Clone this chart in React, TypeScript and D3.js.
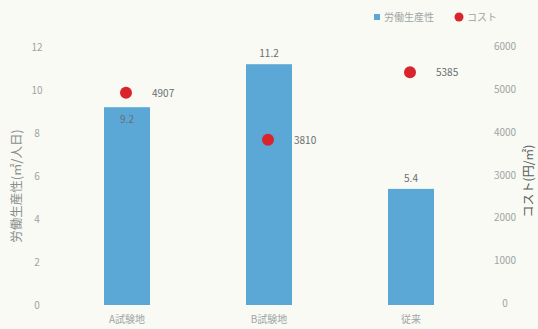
import React from "react";
import * as d3 from "d3";

const categories = ["A試験地", "B試験地", "従来"];
const productivity = [9.2, 11.2, 5.4];
const cost = [4907, 3810, 5385];
const leftTicks = [0, 2, 4, 6, 8, 10, 12];
const rightTicks = [0, 1000, 2000, 3000, 4000, 5000, 6000];
const seriesNames = ["労働生産性", "コスト"];
const axisTitles = ["労働生産性(㎡/人日)", "コスト(円/㎡)"];

const W = 538;
const H = 329;
const margin = { left: 56, right: 56, top: 47, bottom: 24 };
const FONT = "'Noto Sans CJK JP', 'Noto Sans', sans-serif";
const BAR = "#5ba8d6";
const DOT = "#d8242a";
const GRAY = "#a0a4a6";

export default function App() {
  const x = d3
    .scaleBand<string>()
    .domain(categories)
    .range([margin.left, W - margin.right])
    .paddingInner(0.676)
    .paddingOuter(0.338);
  const yL = d3.scaleLinear().domain([0, 12]).range([H - margin.bottom, margin.top]);
  const yR = d3.scaleLinear().domain([0, 6000]).range([H - margin.bottom - 2, margin.top - 1]);
  const bw = x.bandwidth();

  return (
    <svg
      width={W}
      height={H}
      style={{ position: "absolute", left: 0, top: 0, background: "#f8faf3" }}
      fontFamily={FONT}
    >
      <rect x={0} y={0} width={W} height={H} fill="#f8faf3" />
      {/* legend */}
      <g fontSize={10} fill={GRAY}>
        <rect x={374} y={14} width={6} height={6} fill={BAR} />
        <text x={384} y={21}>{seriesNames[0]}</text>
        <circle cx={459} cy={17} r={4.5} fill={DOT} />
        <text x={467} y={21}>{seriesNames[1]}</text>
      </g>
      {/* left ticks */}
      <g fontSize={10} fill={GRAY} textAnchor="middle">
        {leftTicks.map((t) => (
          <text key={t} x={37} y={yL(t) + 4}>
            {t}
          </text>
        ))}
      </g>
      {/* right ticks */}
      <g fontSize={10} fill={GRAY} textAnchor="middle">
        {rightTicks.map((t) => (
          <text key={t} x={505} y={yR(t) + 4}>
            {t}
          </text>
        ))}
      </g>
      {/* axis titles */}
      <text
        transform={`translate(21,${(yL(0) + yL(12)) / 2 + 10}) rotate(-90)`}
        textAnchor="middle"
        fontSize={12.5}
        fill="#8a8e90"
      >
        {axisTitles[0]}
      </text>
      <text
        transform={`translate(533,${(yL(0) + yL(12)) / 2 + 5}) rotate(-90)`}
        textAnchor="middle"
        fontSize={12}
        fill="#5a5e60"
      >
        {axisTitles[1]}
      </text>
      {/* bars */}
      {categories.map((c, i) => (
        <rect
          key={c}
          x={x(c)}
          y={yL(productivity[i])}
          width={bw}
          height={yL(0) - yL(productivity[i])}
          fill={BAR}
        />
      ))}
      {/* bar labels */}
      <g fontSize={10} fill="#6a6e70" textAnchor="middle">
        {categories.map((c, i) => (
          <text
            key={c}
            x={(x(c) as number) + bw / 2}
            y={i === 0 ? yL(productivity[i]) + 16 : yL(productivity[i]) - 7}
          >
            {productivity[i]}
          </text>
        ))}
      </g>
      {/* dots */}
      {categories.map((c, i) => (
        <circle
          key={c}
          cx={(x(c) as number) + bw / 2 - 1}
          cy={yR(cost[i])}
          r={6}
          fill={DOT}
        />
      ))}
      <g fontSize={10} fill="#6a6e70">
        {categories.map((c, i) => (
          <text key={c} x={(x(c) as number) + bw / 2 + 25} y={yR(cost[i]) + 4}>
            {cost[i]}
          </text>
        ))}
      </g>
      {/* category labels */}
      <g fontSize={10} fill={GRAY} textAnchor="middle">
        {categories.map((c) => (
          <text key={c} x={(x(c) as number) + bw / 2} y={H - 6}>
            {c}
          </text>
        ))}
      </g>
    </svg>
  );
}
